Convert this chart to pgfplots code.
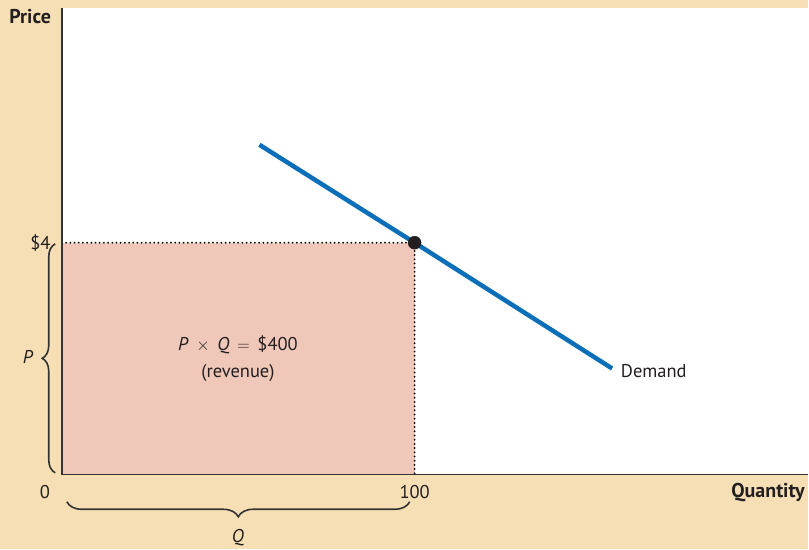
\documentclass[border=0pt]{standalone}
\usepackage{fontspec}
\setmainfont{PT Sans}
\usepackage{pgfplots}
\pgfplotsset{compat=1.18}
\usetikzlibrary{decorations.pathreplacing}

\definecolor{beige}{HTML}{F6DFB5}
\definecolor{revfill}{HTML}{F0C8BA}
\definecolor{demandblue}{HTML}{0A6FB8}
\definecolor{axisgray}{HTML}{333333}
\definecolor{textdark}{HTML}{231F20}

\newcommand{\lbl}{\fontsize{18.5}{21}\selectfont}
\newcommand{\gap}{\hspace{0.42em}}

\begin{document}
\begin{tikzpicture}[every node/.style={font=\lbl, text=textdark}]
% page background (1 px = 1 pt)
\fill[beige] (-62pt,-75pt) rectangle (747pt,475pt);
\begin{axis}[
  scale only axis,
  width=747pt, height=467pt,
  xmin=0, xmax=211.6,
  ymin=0, ymax=8.05,
  axis x line*=bottom,
  axis y line*=left,
  axis line style={-, line width=1.6pt, axisgray},
  axis background/.style={fill=white},
  ticks=none,
  clip=false,
]
% revenue rectangle
\addplot[fill=revfill, draw=none] coordinates {(0,0) (100,0) (100,4) (0,4)} -- cycle;
% dotted guides
\addplot[black, line width=2pt, line cap=round, dash pattern=on 0pt off 4.2pt] coordinates {(0,4) (100,4) (100,0)};
% demand curve
\addplot[demandblue, line width=4.5pt] coordinates {(56,5.69) (100,4) (156,1.83)};
% chosen point
\addplot[only marks, mark=*, mark size=6.5pt, textdark] coordinates {(100,4)};

% redraw axis lines on top of the fill
\draw[axisgray, line width=1.6pt] (axis cs:0,8.05) -- (axis cs:0,0) -- (axis cs:211.6,0);

% labels
\node[font=\fontsize{20}{22}\selectfont\bfseries] at (axis cs:-9.0,7.90) {Price};
\node[font=\fontsize{20}{22}\selectfont\bfseries, anchor=east] at (axis cs:211.6,-0.31) {Quantity};
\node[anchor=east, inner sep=0pt] at (axis cs:-3.2,4) {\$4};
\node at (axis cs:-4.8,-0.31) {0};
\node at (axis cs:100,-0.31) {100};
\node at (axis cs:-9.6,2.03) {\textit{P}};
\node at (axis cs:49.9,-1.09) {\textit{Q}};
\node at (axis cs:49.9,2.24) {\textit{P}\gap$\times$\gap\textit{Q}\gap$=$\gap\$400};
\node at (axis cs:49.9,1.76) {(revenue)};
\node[anchor=west] at (axis cs:157.5,1.78) {Demand};

% braces
\draw[axisgray, line width=1.6pt, decorate, decoration={brace, amplitude=13pt}]
  (axis cs:-1.9,0.03) -- (axis cs:-1.9,3.98);
\draw[axisgray, line width=1.6pt, decorate, decoration={brace, amplitude=15pt}]
  (axis cs:98.6,-0.47) -- (axis cs:1.4,-0.47);
\end{axis}
\end{tikzpicture}
\end{document}
